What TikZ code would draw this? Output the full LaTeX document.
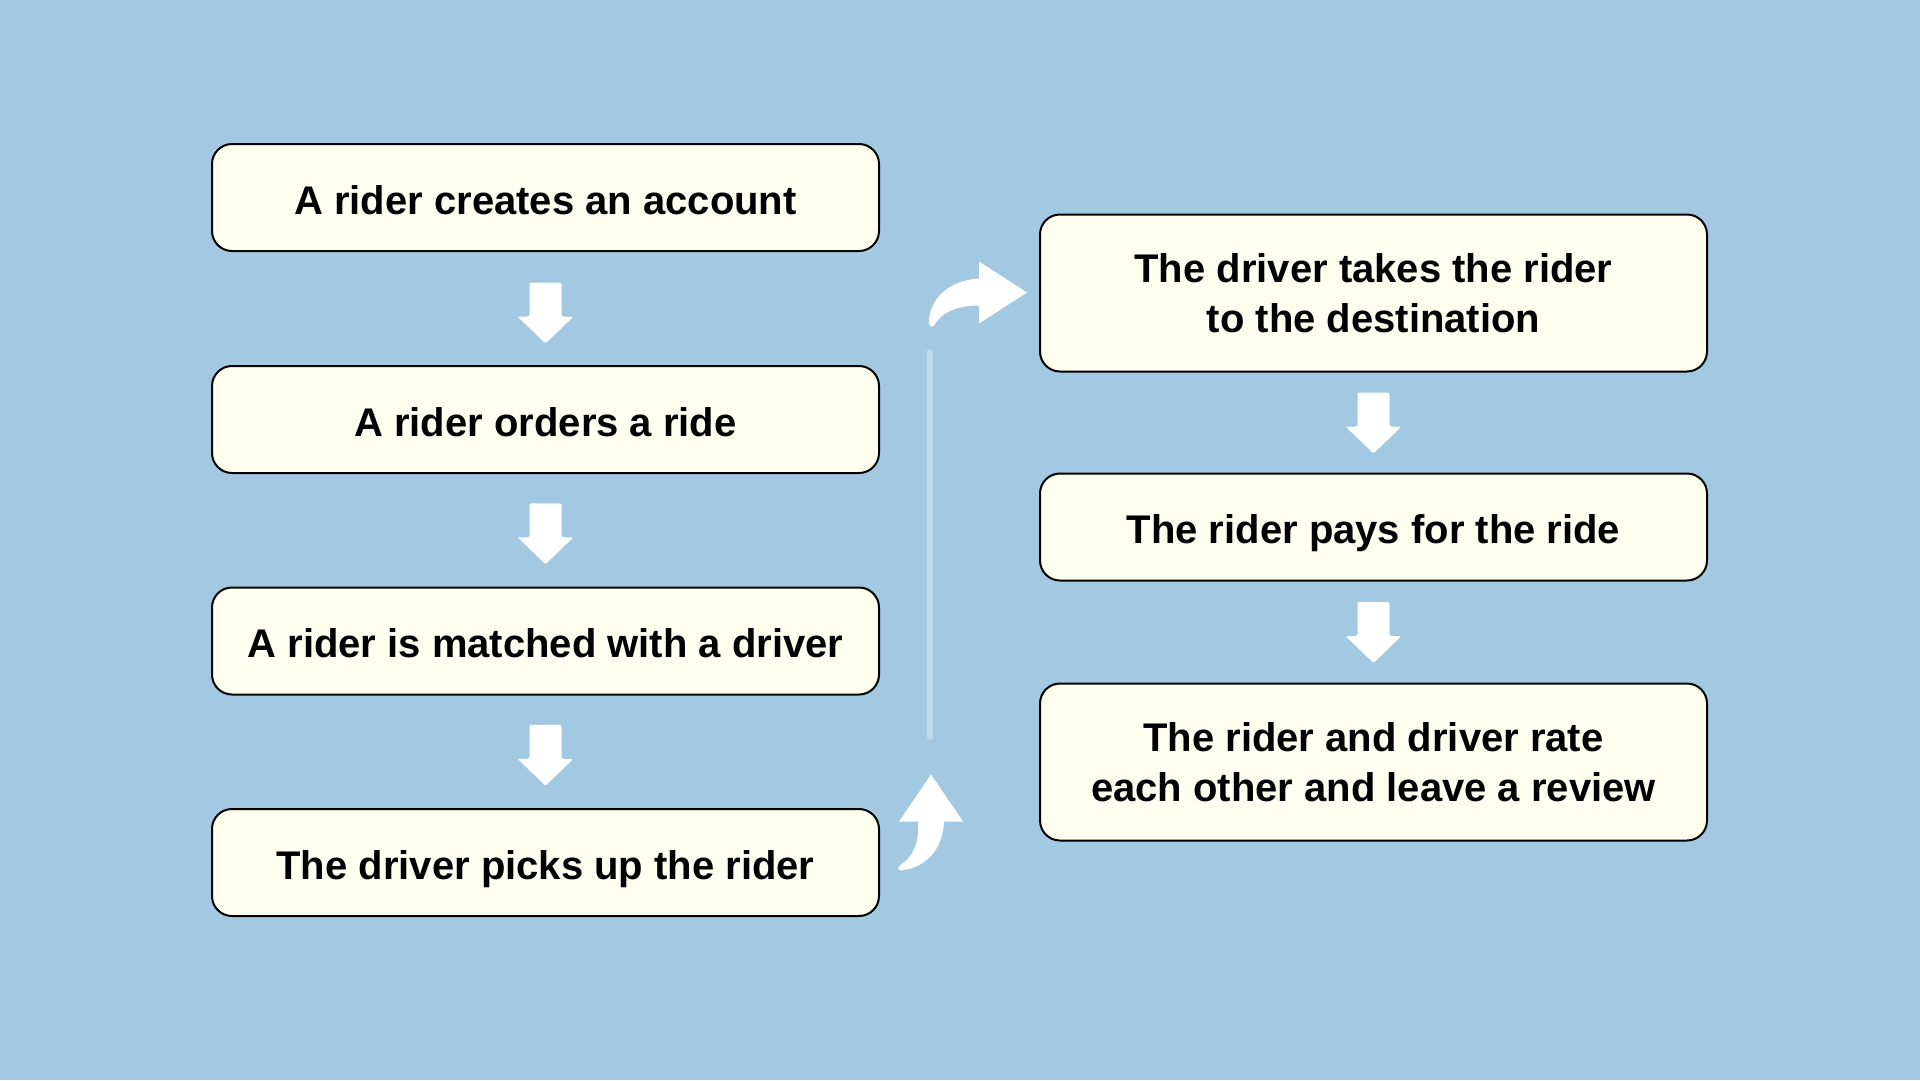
\documentclass[tikz,border=0pt]{standalone}
\usepackage{fontspec}
\setmainfont{Liberation Sans}
\usetikzlibrary{calc}
\definecolor{pageBg}{HTML}{A2C8E2}
\definecolor{stepFill}{HTML}{FFFFF0}
\providecommand{\flowBorderWidth}{2pt}
\providecommand{\flowCornerRadius}{20pt}
\tikzset{
  stepbox/.style={draw=black, line width=\flowBorderWidth, fill=stepFill,
    rounded corners=\flowCornerRadius, minimum width=667pt, minimum height=107pt,
    align=center, inner sep=0pt, text height=33pt, text depth=0pt,
    font=\fontsize{40}{50}\selectfont\bfseries},
  tallbox/.style={stepbox, minimum height=157pt, text height=},
  blockarrow/.style={fill=white, draw=none},
  guideline/.style={draw=white!30!pageBg, line width=6pt, line cap=round}
}
% block arrow pointing down, centred on a coordinate
\newcommand{\downblock}[1]{%
  \begin{scope}[shift={(#1)}]
    \fill[blockarrow, rounded corners=2pt] (-16,-30) -- (16,-30) -- (16,4) -- (28,4)
      -- (0,31) -- (-28,4) -- (-16,4) -- cycle;
  \end{scope}}
\begin{document}
\begin{tikzpicture}[x=1pt, y=-1pt]
% page and margins
\useasboundingbox (0,0) rectangle (1920,1080);
\fill[pageBg] (0,0) rectangle (1920,1080);
% left column
\node[stepbox] (account) at (545.5,197.5) {A rider creates an account};
\node[stepbox] (order)   at (545.5,419.5) {A rider orders a ride};
\node[stepbox] (match)   at (545.5,641)   {A rider is matched with a driver};
\node[stepbox] (pickup)  at (545.5,862.5) {The driver picks up the rider};
% right column
\node[tallbox] (trip)    at (1373.5,293) {The driver takes the rider\\to the destination};
\node[stepbox] (pay)     at (1373.5,527)   {The rider pays for the ride};
\node[tallbox] (review)  at (1373.5,762) {The rider and driver rate\\each other and leave a review};
% arrows between steps
\coordinate (a1) at ($(account.south)!0.5!(order.north)+(0,4)$);
\coordinate (a2) at ($(order.south)!0.5!(match.north)+(0,3)$);
\coordinate (a3) at ($(match.south)!0.5!(pickup.north)+(0,3)$);
\coordinate (a4) at ($(trip.south)!0.5!(pay.north)$);
\coordinate (a5) at ($(pay.south)!0.5!(review.north)$);
\foreach \c in {a1,a2,a3,a4,a5}{\downblock{\c}}
% faint divider between columns
\coordinate (gtop) at (930,352);
\coordinate (gbot) at (930,737);
\draw[guideline] (gtop) -- (gbot);
% turn arrow leaving the left column
\begin{scope}[shift={($(pickup.east)+(51,-88)$)}]
  \fill[blockarrow] (0,0) -- (32,47) -- (13,47)
    .. controls (12,75) and (-5,93) .. (-30,96)
    .. controls (-33,96) and (-34,93) .. (-31,91)
    .. controls (-15,80) and (-12,65) .. (-13,47)
    -- (-32,47) -- cycle;
\end{scope}
% turn arrow entering the right column
\begin{scope}[shift={($(trip.west)+(-12,-0.5)$)}]
  \fill[blockarrow] (0,0) -- (-48,31) -- (-48,13)
    .. controls (-70,13) and (-86,20) .. (-93,33)
    .. controls (-95,35) and (-98,34) .. (-98,30)
    .. controls (-98,8) and (-80,-12) .. (-48,-14)
    -- (-48,-31) -- cycle;
\end{scope}
\end{tikzpicture}
\end{document}
